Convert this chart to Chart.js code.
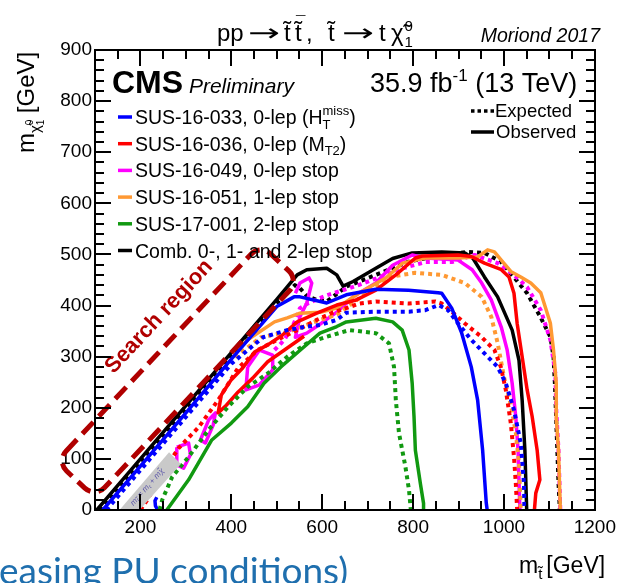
<!DOCTYPE html>
<html>
<head>
<meta charset="utf-8">
<script src="https://cdn.jsdelivr.net/npm/chart.js@4.4.0/dist/chart.umd.min.js"></script>
<style>
  body { margin: 0; background: #fff; }
  #wrap { position: relative; width: 622px; height: 583px; overflow: hidden; }
  #slide { position: absolute; left: -1px; top: 550px; font-family: Lato, "Open Sans", sans-serif;
           font-size: 37px; line-height: 40px; color: #1f6fae; white-space: nowrap; }
</style>
</head>
<body>
<div id="wrap">
  <canvas id="chart" width="622" height="583"></canvas>
  <div id="slide">easing PU conditions)</div>
</div>
<script>
// axis ranges (GeV)
const xRange = [100, 1200];
const yRange = [0, 900];
// tick marks (GeV)
const xMajor = [200, 400, 600, 800, 1000];
const xMinor = [150, 250, 300, 350, 450, 500, 550, 650, 700, 750, 850, 900, 950, 1050, 1100, 1150];
const yMajor = [100, 200, 300, 400, 500, 600, 700, 800];
const yMinor = [20, 40, 60, 80, 120, 140, 160, 180, 220, 240, 260, 280, 320, 340, 360, 380,
                420, 440, 460, 480, 520, 540, 560, 580, 620, 640, 660, 680, 720, 740, 760, 780,
                820, 840, 860, 880];

// exclusion contours, [m_stop, m_LSP] in GeV
const combObs = [[104,0],[200,100],[300,204],[400,308],[500,412],[545,460],[566,470],[610,473],[632,460],[646,438],[668,447],[718,473],[755,492],[798,503],[863,505],[914,503],[932,492],[957,456],[986,417],[1018,352],[1033,293],[1040,215],[1046,117],[1050,0]];
const combExp = [[110,0],[200,94],[300,198],[400,302],[500,405],[540,440],[551,434],[566,419],[588,411],[610,408],[653,437],[718,460],[790,486],[863,499],[920,505],[957,503],[993,486],[1015,463],[1051,424],[1080,378],[1102,339],[1109,300],[1112,248],[1116,150],[1120,52],[1123,0]];

const sus033Obs = [[117,0],[200,86],[300,190],[400,295],[500,398],[538,417],[551,417],[610,405],[653,421],[718,432],[790,430],[855,425],[863,424],[885,395],[907,346],[928,280],[942,215],[953,117],[961,14],[963,0]];
const sus033ObsLow = [[238,0],[233,8],[232,18],[236,25]];
const sus033Exp = [[125,0],[200,78],[300,182],[400,286],[470,338],[523,352],[560,358],[595,362],[632,372],[653,386],[718,388],[791,388],[827,391],[856,401],[877,391],[899,365],[928,333],[964,300],[986,280],[1004,248],[1022,196],[1037,130],[1044,52],[1045,0]];

const sus036Obs = [[560,340],[520,315],[480,290],[447,258],[415,231],[389,205],[371,190],[378,225],[399,254],[425,278],[451,309],[480,323],[512,342],[545,368],[588,385],[632,401],[675,411],[718,430],[762,460],[805,493],[820,497],[899,499],[928,496],[957,483],[993,471],[1011,456],[1022,424],[1029,365],[1040,300],[1051,235],[1062,183],[1073,117],[1079,59],[1070,33],[1067,0]];
const sus036Exp = [[200,0],[215,20],[235,50],[252,78],[284,121],[328,162],[371,215],[415,278],[458,313],[501,333],[545,352],[588,372],[620,385],[682,404],[718,408],[791,404],[849,408],[863,404],[885,388],[914,365],[950,339],[979,313],[993,280],[1004,235],[1015,170],[1022,104],[1026,52],[1029,0]];

const sus049Obs = [[541,424],[551,444],[571,454],[577,444],[566,405],[551,378],[541,338],[566,346],[599,366],[632,387],[668,417],[718,444],[755,479],[798,499],[827,493],[899,489],[930,470],[951,444],[972,411],[994,358],[1007,313],[1018,248],[1026,182],[1031,117],[1035,0]];
const sus049IslandA = [[436,280],[462,313],[491,303],[491,274],[462,245],[432,235],[436,280]];
const sus049IslandB = [[332,137],[350,176],[365,190],[360,166],[343,131],[332,137]];
const sus049IslandC = [[280,123],[306,131],[310,108],[295,82],[280,88],[280,123]];
const sus049Exp = [[495,313],[517,333],[538,366],[551,395],[570,405],[610,420],[680,440],[777,473],[827,485],[885,485],[935,499],[986,483],[1022,460],[1051,436],[1081,391],[1102,333],[1113,268],[1115,196],[1120,117],[1124,0]];

const sus051Obs = [[420,320],[436,333],[495,368],[523,376],[551,385],[595,387],[632,395],[682,425],[740,454],[777,483],[827,493],[899,493],[942,495],[964,509],[979,505],[994,489],[1016,466],[1037,456],[1059,444],[1081,425],[1102,366],[1109,313],[1115,248],[1115,182],[1120,117],[1124,0]];
const sus051Exp = [[408,299],[465,338],[523,348],[595,372],[632,382],[690,420],[747,456],[805,464],[863,460],[914,444],[951,417],[972,378],[986,327],[1000,260],[1016,202],[1026,151],[1033,92],[1037,0]];

const sus17Obs = [[258,0],[306,59],[357,137],[400,170],[436,202],[472,248],[509,280],[552,313],[595,346],[632,359],[653,368],[718,375],[755,368],[776,352],[791,313],[798,248],[802,183],[805,117],[816,52],[823,13],[823,0]];
const sus17Exp = [[242,0],[248,20],[270,65],[306,104],[350,157],[393,202],[436,241],[480,267],[523,300],[566,326],[610,339],[660,352],[718,346],[747,326],[758,280],[762,215],[769,150],[783,85],[791,39],[795,0]];

// m_stop = m_top + m_LSP band
const diagBand = [[154,0],[263,113],[289,90],[198,0]];

const analyses = ['SUS-16-033, 0-lep (H', 'SUS-16-036, 0-lep (M', 'SUS-16-049, 0-lep stop',
                  'SUS-16-051, 1-lep stop', 'SUS-17-001, 2-lep stop', 'Comb. 0-, 1- and 2-lep stop'];

const colors = { blue: '#0000ff', red: '#ff0000', magenta: '#ff00ff', orange: '#ff9933', green: '#119911', black: '#000000' };
const legendColors = [colors.blue, colors.red, colors.magenta, colors.orange, colors.green, colors.black];
const FONT = '"Liberation Sans", Arial, sans-serif';

function curve(pts, color, dotted) {
  return {
    data: pts.map(p => ({ x: p[0], y: p[1] })),
    showLine: true, fill: false, tension: 0,
    borderColor: color, borderWidth: dotted ? 4 : 3.5,
    borderDash: dotted ? [4, 4] : [],
    borderCapStyle: 'butt', borderJoinStyle: 'round',
    pointRadius: 0
  };
}

const datasets = [
  curve(sus17Exp, colors.green, true),
  curve(sus17Obs, colors.green, false),
  curve(sus033Exp, colors.blue, true),
  curve(sus033Obs, colors.blue, false),
  curve(sus033ObsLow, colors.blue, false),
  curve(sus036Exp, colors.red, true),
  curve(sus036Obs, colors.red, false),
  curve(sus051Exp, colors.orange, true),
  curve(sus051Obs, colors.orange, false),
  curve(sus049Exp, colors.magenta, true),
  curve(sus049Obs, colors.magenta, false),
  curve(sus049IslandA, colors.magenta, false),
  curve(sus049IslandB, colors.magenta, false),
  curve(sus049IslandC, colors.magenta, false),
  curve(combExp, colors.black, true),
  curve(combObs, colors.black, false)
];

// draws text pieces one after another: [text, size, dy, style]
function pieces(ctx, x, y, list) {
  list.forEach(p => {
    ctx.font = (p[3] || '') + ' ' + p[1] + 'px ' + FONT;
    ctx.fillText(p[0], x, y + (p[2] || 0));
    x += ctx.measureText(p[0]).width;
  });
  return x;
}
// stacked superscript / subscript
function stack(ctx, x, y, sup, sub, size) {
  ctx.font = size + 'px ' + FONT;
  ctx.fillText(sup, x, y - size * 0.7);
  ctx.fillText(sub, x, y + size * 0.4);
  return x + Math.max(ctx.measureText(sup).width, ctx.measureText(sub).width);
}
// wide ROOT style arrow, stretched to a given width
function arrow(ctx, x0, x1, y) {
  ctx.save();
  ctx.font = '24px "DejaVu Sans", sans-serif';
  const w = ctx.measureText('\u2192').width;
  ctx.translate(x0, y); ctx.scale((x1 - x0) / w, 1);
  ctx.fillText('\u2192', 0, 0);
  ctx.restore();
}

const overlay = {
  id: 'overlay',
  afterDatasetsDraw(chart) {
    const ctx = chart.ctx, a = chart.chartArea;
    const xs = chart.scales.x, ys = chart.scales.y;
    const px = v => xs.getPixelForValue(v), py = v => ys.getPixelForValue(v);

    // grey diagonal band
    ctx.save();
    ctx.beginPath(); ctx.rect(a.left, a.top, a.right - a.left, a.bottom - a.top); ctx.clip();
    ctx.fillStyle = '#c9c9c9';
    ctx.beginPath();
    diagBand.forEach((p, i) => i ? ctx.lineTo(px(p[0]), py(p[1])) : ctx.moveTo(px(p[0]), py(p[1])));
    ctx.closePath(); ctx.fill();
    ctx.translate(px(215), py(45));
    ctx.rotate(-Math.atan2(py(0) - py(100), px(273) - px(173)));
    ctx.fillStyle = '#5a55a8'; ctx.textAlign = 'center'; ctx.textBaseline = 'middle';
    ctx.font = 'italic 8px ' + FONT;
    ctx.fillText('m\u209C\u0303 = m\u209C + m\u03C7\u0303', 0, 0);
    ctx.restore();

    // search region box
    ctx.save();
    ctx.translate(px(282), py(272));
    ctx.rotate(-46.8 * Math.PI / 180);
    ctx.strokeStyle = '#b00000'; ctx.lineWidth = 5; ctx.setLineDash([16, 8]);
    ctx.beginPath(); ctx.roundRect(-149, -26.5, 298, 53, 14); ctx.stroke();
    ctx.restore();
    ctx.save();
    ctx.translate(px(241), py(378)); ctx.rotate(-47 * Math.PI / 180);
    ctx.fillStyle = '#b00000'; ctx.font = 'bold 22px ' + FONT;
    ctx.textAlign = 'center'; ctx.textBaseline = 'middle';
    ctx.fillText('Search region', 0, 0);
    ctx.restore();
  }
};

const texts = {
  id: 'texts',
  afterDraw(chart) {
    const ctx = chart.ctx, a = chart.chartArea;
    const xs = chart.scales.x, ys = chart.scales.y;
    ctx.save();
    ctx.fillStyle = '#000';

    // frame with inward ticks on all four sides
    const L = Math.round(a.left), R = Math.round(a.right), T = Math.round(a.top), B = Math.round(a.bottom);
    ctx.fillRect(L - 1, T - 1, R - L + 2, 2);
    ctx.fillRect(L - 1, B - 1, R - L + 2, 2);
    ctx.fillRect(L - 1, T - 1, 2, B - T + 2);
    ctx.fillRect(R - 1, T - 1, 2, B - T + 2);
    xMajor.concat(xMinor).forEach(t => {
      const len = xMajor.indexOf(t) >= 0 ? 16 : 9;
      const xp = Math.round(xs.getPixelForValue(t)) - 1;
      ctx.fillRect(xp, B - len, 2, len);
      ctx.fillRect(xp, T, 2, len);
    });
    yMajor.concat(yMinor).forEach(t => {
      const len = yMajor.indexOf(t) >= 0 ? 16 : 9;
      const yp = Math.round(ys.getPixelForValue(t)) - 1;
      ctx.fillRect(L, yp, len, 2);
      ctx.fillRect(R - len, yp, len, 2);
    });

    ctx.textAlign = 'left'; ctx.textBaseline = 'alphabetic';
    pieces(ctx, 217, 41, [['pp', 24]]);
    arrow(ctx, 248, 280, 41);
    pieces(ctx, 284, 41, [['t\u0303', 24]]);
    pieces(ctx, 295, 41, [['t\u0303', 24]]);
    pieces(ctx, 296, 28, [['\u00AF', 17]]);
    pieces(ctx, 306, 41, [[',', 24]]);
    pieces(ctx, 328, 41, [['t\u0303', 24]]);
    arrow(ctx, 342, 374, 41);
    pieces(ctx, 379, 41, [['t', 24]]);
    const cx = pieces(ctx, 391, 41, [['\u03C7\u0303', 24]]);
    stack(ctx, cx + 1, 41, '0', '1', 15);
    ctx.font = 'italic 19.5px ' + FONT; ctx.textAlign = 'right';
    ctx.fillText('Moriond 2017', 600, 42);
    ctx.textAlign = 'left';

    pieces(ctx, 112, 93, [['CMS', 32, 0, 'bold'], [' ', 21], ['Preliminary', 21, 0, 'italic']]);
    let tx = pieces(ctx, 370, 92, [['35.9 fb', 27]]);
    tx = pieces(ctx, tx, 92, [['-1', 17, -11]]);
    pieces(ctx, tx, 92, [[' (13 TeV)', 27]]);

    // legend
    analyses.forEach((lab, i) => {
      const yc = 117 + i * 26.7;
      ctx.strokeStyle = legendColors[i]; ctx.lineWidth = 3.5;
      ctx.beginPath(); ctx.moveTo(118, yc); ctx.lineTo(132, yc); ctx.stroke();
      let lx = pieces(ctx, 135, yc + 7, [[lab, 19.5]]);
      if (i === 0) { lx = stack(ctx, lx, yc + 7, 'miss', 'T', 13); pieces(ctx, lx, yc + 7, [[')', 19.5]]); }
      if (i === 1) { lx = pieces(ctx, lx, yc + 7, [['T2', 13, 4]]); pieces(ctx, lx, yc + 7, [[')', 19.5]]); }
    });
    ctx.strokeStyle = '#000'; ctx.lineWidth = 3.5;
    ctx.setLineDash([3.5, 3]);
    ctx.beginPath(); ctx.moveTo(471, 111); ctx.lineTo(494, 111); ctx.stroke();
    ctx.setLineDash([]);
    ctx.beginPath(); ctx.moveTo(471, 132); ctx.lineTo(494, 132); ctx.stroke();
    pieces(ctx, 495, 117, [['Expected', 18.5]]);
    pieces(ctx, 496, 138, [['Observed', 18.5]]);

    // axis titles
    tx = pieces(ctx, 519, 573, [['m', 23]]);
    tx = pieces(ctx, tx, 573, [['t\u0303', 15, 6]]);
    pieces(ctx, tx + 4, 573, [['[GeV]', 23]]);
    ctx.translate(34, 153); ctx.rotate(-Math.PI / 2);
    tx = pieces(ctx, 0, 0, [['m', 24]]);
    tx = pieces(ctx, tx, 0, [['\u03C7\u0303', 15, 6]]);
    ctx.font = '10px ' + FONT;
    ctx.fillText('0', tx, -1); ctx.fillText('1', tx, 10);
    pieces(ctx, tx + 12, 0, [['[GeV]', 24]]);
    ctx.restore();
  }
};

new Chart(document.getElementById('chart'), {
  type: 'scatter',
  data: { datasets: datasets },
  options: {
    responsive: false, animation: false,
    layout: { padding: { left: 0, right: 20, top: 50, bottom: 0 } },
    plugins: { legend: { display: false }, tooltip: { enabled: false } },
    scales: {
      x: {
        type: 'linear', min: xRange[0], max: xRange[1],
        grid: { display: false, drawTicks: false }, border: { display: false },
        afterFit: s => { s.height = 73; },
        ticks: { stepSize: 100, padding: 6, color: '#000', font: { size: 19, family: FONT },
                 maxRotation: 0, autoSkip: false,
                 callback: v => (v % 200 === 0 ? v : '') }
      },
      y: {
        type: 'linear', min: yRange[0], max: yRange[1],
        grid: { display: false, drawTicks: false }, border: { display: false },
        afterFit: s => { s.width = 95; },
        ticks: { stepSize: 100, padding: 3, color: '#000', font: { size: 19, family: FONT } }
      }
    }
  },
  plugins: [overlay, texts]
});
</script>
</body>
</html>
